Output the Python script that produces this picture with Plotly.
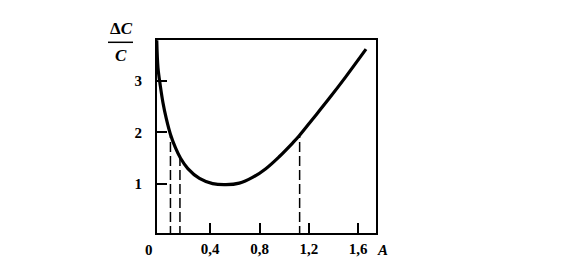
import plotly.graph_objects as go

# Curve (A, ΔC/C)
curve_x = [-0.033, -0.023, -0.004, 0.017, 0.044, 0.077, 0.119, 0.160, 0.219, 0.313,
           0.420, 0.528, 0.636, 0.743, 0.851, 0.959, 1.066, 1.120, 1.228, 1.362,
           1.497, 1.663]
curve_y = [3.78, 3.25, 2.90, 2.58, 2.27, 1.97, 1.70, 1.50, 1.30, 1.11,
           1.01, 0.99, 1.02, 1.13, 1.30, 1.53, 1.79, 1.93, 2.25, 2.65,
           3.07, 3.61]

# Dashed guide lines (x position, height on the curve)
guide_x = [0.078, 0.155, 1.125]
guide_top = [1.97, 1.52, 1.95]

x_ticks = [0.4, 0.8, 1.2, 1.6]
x_tick_text = ["0,4", "0,8", "1,2", "1,6"]
y_ticks = [1, 2, 3]
y_tick_text = ["1", "2", "3"]

FONT = "Liberation Serif"

fig = go.Figure()
for gx, gt in zip(guide_x, guide_top):
    fig.add_trace(go.Scatter(x=[gx, gx], y=[0, gt], mode="lines",
                             line=dict(color="black", width=1.5, dash="10px,4px"),
                             showlegend=False, hoverinfo="skip"))
fig.add_trace(go.Scatter(x=curve_x, y=curve_y, mode="lines",
                         line=dict(color="black", width=3.2, shape="spline", smoothing=1),
                         showlegend=False))

W, H = 564, 279
L, R, T, B = 157, 376, 40, 233

def px(x):
    return (x - L) / (R - L)

def py(y):
    return (B - y) / (B - T)

annos = [
    dict(text="<b>Δ<i>C</i></b>", x=px(121.5), y=py(28), size=17),
    dict(text="<b><i>C</i></b>", x=px(121), y=py(56), size=17),
    dict(text="<b>0</b>", x=px(149.3), y=py(250), size=15),
    dict(text="<b><i>A</i></b>", x=px(382), y=py(250), size=15),
]
for a in annos:
    size = a.pop("size")
    fig.add_annotation(xref="paper", yref="paper", showarrow=False,
                       xanchor="center", yanchor="middle",
                       font=dict(family=FONT, size=size, color="black"), **a)

fig.add_shape(type="line", xref="paper", yref="paper",
              x0=px(108), x1=px(133), y0=py(42.3), y1=py(42.3),
              line=dict(color="black", width=1.5))

fig.update_layout(
    width=W, height=H,
    margin=dict(l=L, r=W - R, t=T, b=H - B),
    paper_bgcolor="white", plot_bgcolor="white",
    font=dict(family=FONT, size=15, color="black"),
    xaxis=dict(range=[-0.031, 1.744], tickvals=x_ticks, ticktext=x_tick_text,
               ticks="inside", ticklen=10, tickwidth=1.5, tickcolor="black",
               showline=True, linewidth=2, linecolor="black", mirror=True,
               showgrid=False, zeroline=False, ticklabelstandoff=1,
               tickfont=dict(family=FONT, size=15, weight="bold")),
    yaxis=dict(range=[0.056, 3.787], tickvals=y_ticks, ticktext=y_tick_text,
               ticks="inside", ticklen=10, tickwidth=1.5, tickcolor="black",
               showline=True, linewidth=2, linecolor="black", mirror=True,
               showgrid=False, zeroline=False, ticklabelstandoff=10,
               tickfont=dict(family=FONT, size=15, weight="bold")),
)

fig.write_html("out.html")
